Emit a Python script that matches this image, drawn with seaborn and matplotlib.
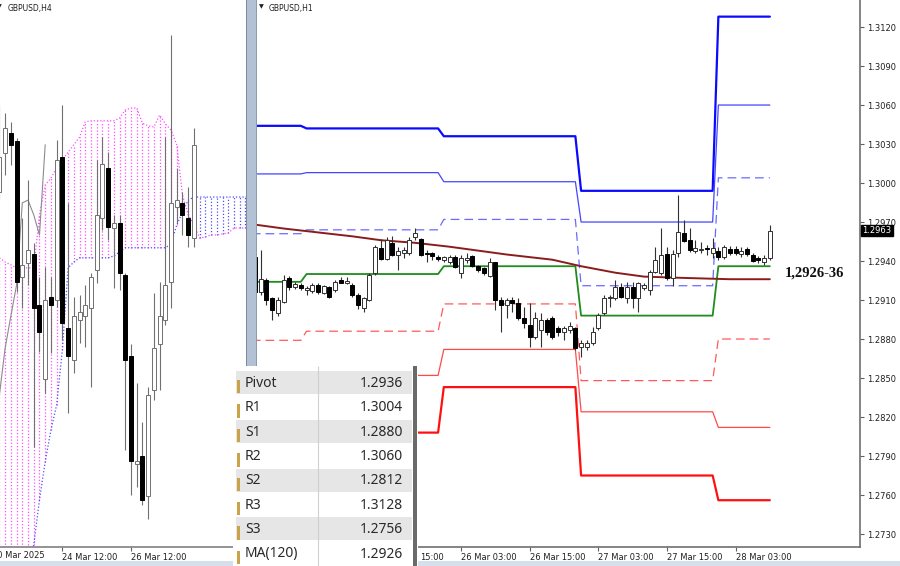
import numpy as np
import pandas as pd
import matplotlib
matplotlib.use('Agg')
import matplotlib.pyplot as plt
import matplotlib.transforms as mtrans
from matplotlib.patches import Rectangle
import seaborn as sns

sns.set_theme(style='white')
plt.rcParams['font.family'] = ['DejaVu Sans']

# ---------------- H4 panel: bar index, 0 = 24 Mar 12:00 ----------------
h4_bar = list(range(-11, 24))
h4_open = [1.29504, 1.29605, 1.29657, 1.29636, 1.29285, 1.29321, 1.29344, 1.29212, 1.29021, 1.29233,
           1.29225, 1.29595, 1.29153, 1.29070, 1.29174, 1.29184, 1.29205, 1.29303, 1.29437, 1.29566,
           1.29411, 1.29424, 1.29290, 1.29081, 1.28802, 1.28822, 1.28719, 1.28993, 1.29112, 1.29174,
           1.29272, 1.29465, 1.29476, 1.29437, 1.29385]
h4_high = [1.29729, 1.29708, 1.29685, 1.29644, 1.29437, 1.29535, 1.29372, 1.29285, 1.29310, 1.29285,
           1.29638, 1.29729, 1.29476, 1.29233, 1.29238, 1.29264, 1.29295, 1.29587, 1.29646, 1.29607,
           1.29445, 1.29445, 1.29295, 1.29112, 1.29011, 1.28910, 1.29001, 1.29243, 1.29272, 1.29646,
           1.29910, 1.29566, 1.29504, 1.29517, 1.29669]
h4_low = [1.29483, 1.29548, 1.29574, 1.29246, 1.29205, 1.29264, 1.28846, 1.29091, 1.28985, 1.29088,
          1.29207, 1.29122, 1.28933, 1.29037, 1.29114, 1.29104, 1.29001, 1.29269, 1.29406, 1.29380,
          1.29256, 1.29251, 1.28838, 1.28722, 1.28742, 1.28696, 1.28660, 1.28967, 1.28993, 1.29161,
          1.29205, 1.29424, 1.29393, 1.29362, 1.29362]
h4_close = [1.29595, 1.29669, 1.29626, 1.29272, 1.29316, 1.29354, 1.29205, 1.29143, 1.29225, 1.29212,
            1.29587, 1.29166, 1.29081, 1.29184, 1.29194, 1.29212, 1.29285, 1.29445, 1.29576, 1.29414,
            1.29424, 1.29295, 1.29070, 1.28809, 1.28809, 1.28709, 1.28980, 1.29101, 1.29184, 1.29264,
            1.29476, 1.29483, 1.29445, 1.29393, 1.29626]

# Ichimoku cloud (already shifted forward), bars -11 .. 33
cloud_bar = list(range(-11, 34))
span_a = [1.28347, 1.28399, 1.28450, 1.28489, 1.28528, 1.28559, 1.28592, 1.28709, 1.28807, 1.28889,
          1.28954, 1.29096, 1.29308, 1.29323, 1.29334, 1.29334, 1.29334, 1.29334, 1.29334, 1.29334,
          1.29339, 1.29349, 1.29360, 1.29360, 1.29360, 1.29360, 1.29360, 1.29360, 1.29360, 1.29360,
          1.29370, 1.29419, 1.29452, 1.29483, 1.29491, 1.29491, 1.29491, 1.29491, 1.29491, 1.29491,
          1.29491, 1.29491, 1.29491, 1.29491, 1.29491]
span_b = [1.29334, 1.29323, 1.29316, 1.29308, 1.29308, 1.29308, 1.29308, 1.29445, 1.29522, 1.29540,
          1.29566, 1.29587, 1.29607, 1.29626, 1.29646, 1.29685, 1.29688, 1.29688, 1.29688, 1.29688,
          1.29688, 1.29695, 1.29716, 1.29721, 1.29721, 1.29682, 1.29675, 1.29672, 1.29703, 1.29680,
          1.29664, 1.29626, 1.29496, 1.29445, 1.29419, 1.29385, 1.29388, 1.29393, 1.29393, 1.29396,
          1.29398, 1.29411, 1.29411, 1.29411, 1.29411]

# ---------------- H1 panel: hours from 24 Mar 00:00 ----------------
h1_hour = list(range(15, 106))
h1_open = [1.29431, 1.29162, 1.29254, 1.29116, 1.29000, 1.29085, 1.29270, 1.29200, 1.29216, 1.29177,
           1.29170, 1.29216, 1.29154, 1.29200, 1.29177, 1.29254, 1.29231, 1.29216, 1.29139, 1.29039,
           1.29100, 1.29308, 1.29500, 1.29416, 1.29539, 1.29447, 1.29462, 1.29462, 1.29585, 1.29570,
           1.29462, 1.29462, 1.29431, 1.29408, 1.29393, 1.29431, 1.29308, 1.29408, 1.29439, 1.29362,
           1.29347, 1.29285, 1.29393, 1.29100, 1.29062, 1.29100, 1.29077, 1.28962, 1.28908, 1.28816,
           1.28870, 1.28947, 1.28962, 1.28885, 1.28854, 1.28870, 1.28885, 1.28739, 1.28739, 1.28770,
           1.28885, 1.29000, 1.29116, 1.29116, 1.29200, 1.29116, 1.29200, 1.29116, 1.29193, 1.29177,
           1.29316, 1.29308, 1.29454, 1.29270, 1.29462, 1.29616, 1.29562, 1.29477, 1.29485, 1.29500,
           1.29462, 1.29477, 1.29431, 1.29493, 1.29493, 1.29454, 1.29493, 1.29447, 1.29423, 1.29393,
           1.29423]
h1_high = [1.29470, 1.29485, 1.29270, 1.29123, 1.29123, 1.29293, 1.29285, 1.29239, 1.29231, 1.29208,
           1.29231, 1.29231, 1.29216, 1.29208, 1.29254, 1.29277, 1.29277, 1.29231, 1.29154, 1.29123,
           1.29308, 1.29523, 1.29570, 1.29585, 1.29593, 1.29508, 1.29508, 1.29585, 1.29654, 1.29577,
           1.29485, 1.29470, 1.29447, 1.29439, 1.29447, 1.29447, 1.29447, 1.29462, 1.29447, 1.29370,
           1.29354, 1.29423, 1.29393, 1.29123, 1.29116, 1.29123, 1.29116, 1.29047, 1.29077, 1.29008,
           1.29000, 1.28962, 1.28977, 1.28900, 1.28900, 1.28931, 1.28893, 1.28793, 1.28793, 1.28893,
           1.29000, 1.29139, 1.29139, 1.29254, 1.29231, 1.29239, 1.29239, 1.29239, 1.29231, 1.29331,
           1.29508, 1.29654, 1.29508, 1.29485, 1.29908, 1.29716, 1.29654, 1.29562, 1.29547, 1.29523,
           1.29577, 1.29508, 1.29523, 1.29516, 1.29516, 1.29508, 1.29508, 1.29462, 1.29439, 1.29447,
           1.29677]
h1_low = [1.29123, 1.29139, 1.29062, 1.28947, 1.28977, 1.29077, 1.29177, 1.29185, 1.29177, 1.29139,
          1.29154, 1.29147, 1.29147, 1.29116, 1.29162, 1.29231, 1.29223, 1.29123, 1.29031, 1.29008,
          1.29093, 1.29293, 1.29408, 1.29408, 1.29439, 1.29331, 1.29423, 1.29447, 1.29562, 1.29439,
          1.29393, 1.29408, 1.29400, 1.29393, 1.29377, 1.29347, 1.29270, 1.29385, 1.29354, 1.29316,
          1.29293, 1.29277, 1.29023, 1.28854, 1.28962, 1.29008, 1.28947, 1.28885, 1.28739, 1.28800,
          1.28739, 1.28831, 1.28800, 1.28823, 1.28793, 1.28847, 1.28716, 1.28662, 1.28716, 1.28754,
          1.28870, 1.28985, 1.29047, 1.29100, 1.29116, 1.29077, 1.29039, 1.29008, 1.29177, 1.29139,
          1.29308, 1.29293, 1.29254, 1.29208, 1.29431, 1.29547, 1.29470, 1.29462, 1.29462, 1.29447,
          1.29423, 1.29408, 1.29416, 1.29447, 1.29447, 1.29431, 1.29439, 1.29393, 1.29385, 1.29370,
          1.29408]
h1_close = [1.29162, 1.29262, 1.29100, 1.29023, 1.29100, 1.29254, 1.29200, 1.29223, 1.29193, 1.29193,
            1.29216, 1.29162, 1.29208, 1.29123, 1.29239, 1.29231, 1.29247, 1.29139, 1.29062, 1.29116,
            1.29293, 1.29508, 1.29416, 1.29562, 1.29447, 1.29477, 1.29485, 1.29562, 1.29616, 1.29447,
            1.29454, 1.29439, 1.29416, 1.29431, 1.29431, 1.29354, 1.29423, 1.29423, 1.29362, 1.29331,
            1.29308, 1.29393, 1.29100, 1.29062, 1.29100, 1.29077, 1.28962, 1.28923, 1.28816, 1.28962,
            1.28947, 1.28854, 1.28816, 1.28854, 1.28885, 1.28900, 1.28731, 1.28770, 1.28770, 1.28854,
            1.28985, 1.29116, 1.29123, 1.29200, 1.29123, 1.29200, 1.29116, 1.29231, 1.29216, 1.29316,
            1.29408, 1.29447, 1.29270, 1.29454, 1.29623, 1.29554, 1.29485, 1.29500, 1.29493, 1.29493,
            1.29500, 1.29431, 1.29508, 1.29462, 1.29462, 1.29477, 1.29454, 1.29400, 1.29408, 1.29423,
            1.29631]

# daily pivot levels, 24 .. 28 Mar
day_start = [0, 24, 48, 72, 96]
pivot = [1.2924, 1.2930, 1.2936, 1.2898, 1.2936]
r1 = [1.2961, 1.2964, 1.2972, 1.2921, 1.3004]
r2 = [1.3007, 1.3008, 1.3001, 1.2970, 1.3060]
r3 = [1.3044, 1.3042, 1.3036, 1.2994, 1.3128]
s1 = [1.2879, 1.2886, 1.2907, 1.2848, 1.2880]
s2 = [1.2842, 1.2852, 1.2872, 1.2824, 1.2812]
s3 = [1.2796, 1.2808, 1.2843, 1.2775, 1.2756]

ma_hour = [15, 20, 26, 32, 37, 43, 49, 59, 67, 72, 78, 83, 90, 98, 105]
ma_value = [1.2968, 1.2965, 1.2962, 1.2959, 1.2956, 1.2954, 1.2951, 1.2945, 1.2941, 1.2936,
            1.2931, 1.2928, 1.2927, 1.2926, 1.2926]

h1_tick_hour = [27, 39, 51, 63, 75, 87, 99]
h1_tick_label = ['25 Mar 03:00', '25 Mar 15:00', '26 Mar 03:00', '26 Mar 15:00',
                 '27 Mar 03:00', '27 Mar 15:00', '28 Mar 03:00']
h4_tick_bar = [0, 12]
h4_tick_label = ['24 Mar 12:00', '26 Mar 12:00']

table_names = ['Pivot', 'R1', 'S1', 'R2', 'S2', 'R3', 'S3', 'MA(120)']
table_values = [pivot[-1], r1[-1], s1[-1], r2[-1], s2[-1], r3[-1], s3[-1], ma_value[-1]]

W, H = 900, 566


def px_box(x0, y0, x1, y1):
    return [x0 / W, 1 - y1 / H, (x1 - x0) / W, (y1 - y0) / H]


def draw_candles(ax, xs, o, hi, lo, c, wick, edge):
    for x, op, hh, ll, cl in zip(xs, o, hi, lo, c):
        ax.vlines(x, ll, hh, color=wick, lw=0.8, zorder=3)
        bull = cl >= op
        ax.add_patch(Rectangle((x - 0.35, min(op, cl)), 0.7, abs(cl - op),
                               facecolor='white' if bull else 'black',
                               edgecolor=edge if bull else 'black', lw=0.7, zorder=4))


def level_path(vals, last):
    xs, ys = [], []
    for i, v in enumerate(vals):
        end = day_start[i + 1] - 1 if i + 1 < len(day_start) else last
        xs += [day_start[i], end]
        ys += [v, v]
    return xs, ys


fig = plt.figure(figsize=(9, 5.66), dpi=100)
fig.patch.set_facecolor('white')

# ---------------- left: H4 with cloud ----------------
ax1 = fig.add_axes(px_box(0, 0, 246, 547))
ax1.set_facecolor('white')
pink, blue = '#ff4dff', '#4d4dff'
for b, a, s in zip(cloud_bar, span_a, span_b):
    ax1.vlines(b, min(a, s), max(a, s), colors=pink if s > a else blue,
               linestyles=(0, (1, 1.6)), lw=0.9, zorder=1)
sns.lineplot(x=cloud_bar, y=span_a, ax=ax1, color=blue, lw=0.9, ls=(0, (1, 1.6)),
             estimator=None, sort=False, zorder=2)
sns.lineplot(x=cloud_bar, y=span_b, ax=ax1, color=pink, lw=0.9, ls=(0, (1, 1.6)),
             estimator=None, sort=False, zorder=2)

chikou = pd.Series(h4_close, index=h4_bar).shift(-26).dropna()
sns.lineplot(x=chikou.index, y=chikou.values, ax=ax1, color='#8c8c8c', lw=0.8,
             estimator=None, sort=False, zorder=2)
draw_candles(ax1, h4_bar, h4_open, h4_high, h4_low, h4_close, '#707070', '#707070')

ax1.set_xlim(-10.9, 32.1)
ax1.set_ylim(1.28587, 1.3)
ax1.set_yticks([])
ax1.set_xticks(h4_tick_bar, labels=h4_tick_label, ha='left', fontsize=6)
ax1.tick_params(axis='x', bottom=True, length=3, width=0.8, color='#606060', pad=1,
                labelcolor='#202020')
for side in ['top', 'left', 'right']:
    ax1.spines[side].set_visible(False)
ax1.spines['bottom'].set_color('#808080')
ax1.spines['bottom'].set_linewidth(1.2)
ax1.set_xlabel('')
ax1.set_ylabel('')
ax1.text(0.03, 0.993, 'GBPUSD,H4', transform=ax1.transAxes, va='top', ha='left',
         fontsize=5.5, color='#202020')
ax1.text(-0.012, 0.993, '▼', transform=ax1.transAxes, va='top', ha='left',
         fontsize=4.5, color='#202020')
fig.text(-8 / W, 1 - 555 / H, '20 Mar 2025', fontsize=6, va='center', ha='left',
         color='#202020')

# ---------------- right: H1 with pivots ----------------
ax2 = fig.add_axes(px_box(257, 0, 860, 547))
ax2.set_facecolor('white')
last_h = h1_hour[-1]
styles = [
    (r3, '#0a0aff', 1.6, '-'),
    (r2, '#4545ff', 0.9, '-'),
    (r1, '#6a6aff', 0.9, (0, (7, 4))),
    (s1, '#ff5a5a', 0.9, (0, (7, 4))),
    (s2, '#ff4a4a', 0.9, '-'),
    (s3, '#ff1010', 1.6, '-'),
    (pivot, '#1e8c1e', 1.3, '-'),
]
for vals, col, lw, ls in styles:
    xs, ys = level_path(vals, last_h)
    sns.lineplot(x=xs, y=ys, ax=ax2, color=col, lw=lw, ls=ls, estimator=None,
                 sort=False, zorder=2)
sns.lineplot(x=ma_hour, y=ma_value, ax=ax2, color='#8b1c1c', lw=1.4, estimator=None,
             sort=False, zorder=2)
draw_candles(ax2, h1_hour, h1_open, h1_high, h1_low, h1_close, '#303030', '#303030')

ax2.set_xlim(15.34, 120.76)
ax2.set_ylim(1.27200, 1.31408)
ax2.yaxis.tick_right()
price_ticks = np.round(np.arange(1.2730, 1.3121, 0.003), 4)
ax2.set_yticks(price_ticks, labels=[f'{p:.4f}' for p in price_ticks], fontsize=6)

# the data window covers the first labels; only the tail of one shows
table_right_px = 418
shown = [461 + (t - 51) * 5.72 > table_right_px for t in h1_tick_hour]
ax2.set_xticks(h1_tick_hour, labels=[lab if ok else '' for lab, ok in zip(h1_tick_label, shown)],
               ha='left', fontsize=6)
ax2.tick_params(axis='both', length=3, width=0.8, color='#606060', pad=1,
                labelcolor='#202020', bottom=True, right=True)
ax2.tick_params(axis='y', pad=2)
tail_tr = mtrans.offset_copy(ax2.get_xaxis_transform(), fig=fig, y=-4, units='points')
ax2.text(51 + (table_right_px + 2 - 461) / 5.72, 0, h1_tick_label[1].split()[-1],
         transform=tail_tr, ha='left', va='top', fontsize=6, color='#202020', clip_on=False)

for side in ['top', 'left']:
    ax2.spines[side].set_visible(False)
for side in ['bottom', 'right']:
    ax2.spines[side].set_color('#707070')
    ax2.spines[side].set_linewidth(1.2)
ax2.set_xlabel('')
ax2.set_ylabel('')
ax2.text(0.02, 0.993, 'GBPUSD,H1', transform=ax2.transAxes, va='top', ha='left',
         fontsize=5.5, color='#202020')
ax2.text(0.003, 0.993, '▼', transform=ax2.transAxes, va='top', ha='left',
         fontsize=4.5, color='#202020')

# current price marker on the scale
blend = mtrans.blended_transform_factory(ax2.transAxes, ax2.transData)
ax2.text(1.004, h1_close[-1], f'{h1_close[-1]:.4f}', transform=blend, ha='left',
         va='center', fontsize=6, color='white', clip_on=False, zorder=6,
         bbox=dict(boxstyle='square,pad=0.12', fc='black', ec='black'))

# zone note
ax2.text(107.6, (ma_value[-1] + pivot[-1]) / 2, '1,2926-36', ha='left', va='center',
         fontsize=10.5, fontweight='bold', family=['Liberation Serif'], color='#111111')

# separator between the two windows
fig.add_artist(Rectangle((246 / W, 1 - 547 / H), 11 / W, 547 / H, transform=fig.transFigure,
                         facecolor='#b3c1d4', edgecolor='none', zorder=3))
fig.add_artist(Rectangle((246 / W, 1 - 547 / H), 1.5 / W, 547 / H, transform=fig.transFigure,
                         facecolor='#7d8ba0', edgecolor='none', zorder=3))
fig.add_artist(Rectangle((255.5 / W, 1 - 547 / H), 1.5 / W, 547 / H, transform=fig.transFigure,
                         facecolor='#8d9bb0', edgecolor='none', zorder=3))
# bottom strip
fig.add_artist(Rectangle((0, 0), 1, 5 / H, transform=fig.transFigure,
                         facecolor='#d6e0ec', edgecolor='none', zorder=3))

# ---------------- data window table ----------------
tab = fig.add_axes(px_box(233, 366, table_right_px, 566), zorder=10)
tab.set_xlim(0, 185)
tab.set_ylim(200, 0)
tab.axis('off')
tab.add_patch(Rectangle((0, 0), 185, 200, facecolor='white', edgecolor='none'))
row_h = 24.4
for i, (name, val) in enumerate(zip(table_names, table_values)):
    top = 5 + i * row_h
    tab.add_patch(Rectangle((3, top), 176, row_h - 1.5,
                            facecolor='#e6e6e6' if i % 2 == 0 else 'white', edgecolor='none'))
    tab.add_patch(Rectangle((4, top + 9), 2.5, row_h - 11, facecolor='#c9a24a', edgecolor='none'))
    tab.text(12, top + row_h / 2, name, ha='left', va='center', fontsize=10,
             family=['Noto Sans'], color='#2a2a2a')
    tab.text(170, top + row_h / 2, f'{val:.4f}', ha='right', va='center', fontsize=10,
             family=['Noto Sans'], color='#2a2a2a')
tab.vlines(85, 0, 200, color='#d0d0d0', lw=0.8)
tab.add_patch(Rectangle((180, 0), 4, 200, facecolor='#6a6a6a', edgecolor='none'))

fig.savefig('out.png', dpi=100)
